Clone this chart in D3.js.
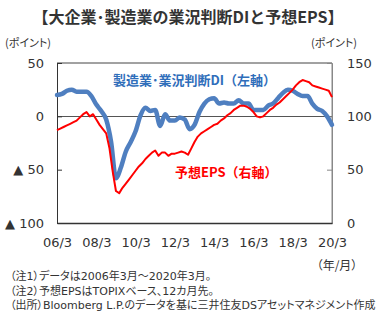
<!DOCTYPE html>
<html>
<head>
<meta charset="utf-8">
<script src="https://cdn.jsdelivr.net/npm/d3@7"></script>
<style>
  html, body { margin: 0; padding: 0; background: #fff; }
  svg { display: block; }
  .jp { font-family: "Noto Sans CJK JP", sans-serif; font-feature-settings: "palt"; }
  .jpw { font-family: "Noto Sans CJK JP", sans-serif; }
  .note { font-family: "DejaVu Sans", "Noto Sans CJK JP", sans-serif; font-feature-settings: "palt"; }
  .num { font-family: "DejaVu Sans", Verdana, sans-serif; }
</style>
</head>
<body>
<svg id="chart" width="377" height="331"></svg>
<script>
// Large manufacturers business conditions DI (quarterly, 2006/3 - 2020/3), left axis
const diStart = "2006-03";
const diValues = [
  20, 21, 24, 25,  23, 23, 23, 19,  11, 5, -3, -24,  -58, -48, -33, -24,
  -14, 1, 8, 5,  6, -9, 2, -4,  -4, -1, -3, -12,  -8, 4, 12, 16,
  17, 12, 13, 12,  12, 15, 12, 12,  6, 6, 6, 10,  12, 17, 22, 25,
  24, 21, 19, 19,  12, 7, 5, 0,  -8
];

// Forward 12-month EPS, TOPIX basis (every two months, 2006/3 - 2020/3), right axis
const epsStart = "2006-03";
const epsValues = [
  87, 88.5, 90, 91.5, 93, 94.5, 96, 99, 102, 104, 100, 102,
  97, 92, 88, 84, 70, 48, 30, 28, 33, 37, 41, 45,
  49, 53, 56, 60, 63, 66, 68, 63, 66, 66, 63, 65,
  65, 66, 67, 66, 64, 70, 76, 81, 84, 86, 88, 90,
  92, 93, 96, 98, 101, 103, 106, 108, 110, 110, 109, 107,
  104, 100, 99, 100, 103, 106, 108, 111, 113, 116, 119, 122,
  125, 129, 132, 134, 133, 132, 129, 128, 127, 126, 125, 124,
  118
];

const xTickLabels = ["06/3", "08/3", "10/3", "12/3", "14/3", "16/3", "18/3", "20/3"];
const leftTicks = [50, 0, -50, -100];
const rightTicks = [150, 100, 50, 0];

const title = "【大企業･製造業の業況判断DIと予想EPS】";
const diLabel = "製造業･業況判断DI（左軸）";
const epsLabel = "予想EPS（右軸）";
const notes = [
  "（注1）データは2006年3月～2020年3月。",
  "（注2）予想EPSはTOPIXベース、12カ月先。",
  "（出所）Bloomberg L.P.のデータを基に三井住友DSアセットマネジメント作成"
];

const parseYM = d3.timeParse("%Y-%m");
const parseTick = d3.timeParse("%y/%m");

const diData = diValues.map((v, i) => ({ date: d3.timeMonth.offset(parseYM(diStart), i * 3), v }));
const epsData = epsValues.map((v, i) => ({ date: d3.timeMonth.offset(parseYM(epsStart), i * 2), v }));

const plot = { left: 57, right: 332, top: 63, bottom: 223 };

const x = d3.scaleTime()
  .domain([parseYM("2006-03"), parseYM("2020-03")])
  .range([plot.left, plot.right]);
const yL = d3.scaleLinear().domain([-100, 50]).range([plot.bottom, plot.top]);
const yR = d3.scaleLinear().domain([0, 150]).range([plot.bottom, plot.top]);

const svg = d3.select("#chart");

// Title
svg.append("text")
  .attr("class", "jpw")
  .attr("x", 188).attr("y", 23)
  .attr("text-anchor", "middle")
  .attr("font-size", 16).attr("font-weight", "bold")
  .attr("fill", "#333")
  .text(title);

// Unit labels
svg.append("text").attr("class", "jp")
  .attr("x", 5).attr("y", 47)
  .attr("font-size", 11).attr("fill", "#333")
  .text("(ポイント)");
svg.append("text").attr("class", "jp")
  .attr("x", 357).attr("y", 47).attr("text-anchor", "end")
  .attr("font-size", 11).attr("fill", "#333")
  .text("(ポイント)");

// Frame: top and right edges
svg.append("line")
  .attr("x1", plot.left).attr("x2", plot.right)
  .attr("y1", plot.top).attr("y2", plot.top)
  .attr("stroke", "#444").attr("stroke-width", 1);
svg.append("line")
  .attr("x1", plot.right).attr("x2", plot.right)
  .attr("y1", plot.top).attr("y2", plot.bottom)
  .attr("stroke", "#888").attr("stroke-width", 1);

// Zero line across the plot
svg.append("line")
  .attr("x1", plot.left).attr("x2", plot.right)
  .attr("y1", Math.round(yL(0)) + 0.5).attr("y2", Math.round(yL(0)) + 0.5)
  .attr("stroke", "#555").attr("stroke-width", 1);

// Left axis
const leftAxis = d3.axisLeft(yL)
  .tickValues(leftTicks)
  .tickSize(-5)
  .tickPadding(13)
  .tickFormat(d => d < 0 ? "▲ " + Math.abs(d) : String(d));
const gL = svg.append("g")
  .attr("transform", `translate(${plot.left},0)`)
  .call(leftAxis);
gL.select(".domain").attr("stroke", "#333");
gL.selectAll(".tick line").attr("stroke", "#333");
gL.selectAll("text")
  .attr("class", "num")
  .attr("font-size", 13)
  .attr("fill", "#333");

// Right axis
const rightAxis = d3.axisRight(yR)
  .tickValues(rightTicks)
  .tickSize(-5)
  .tickPadding(15);
const gR = svg.append("g")
  .attr("transform", `translate(${plot.right},0)`)
  .call(rightAxis);
gR.select(".domain").attr("stroke", "#888");
gR.selectAll(".tick line").attr("stroke", "#888");
gR.selectAll("text")
  .attr("class", "num")
  .attr("font-size", 13)
  .attr("fill", "#333");

// Bottom axis
const bottomAxis = d3.axisBottom(x)
  .tickValues(xTickLabels.map(parseTick))
  .tickSize(0)
  .tickPadding(15)
  .tickFormat(d3.timeFormat("%y/%-m"));
const gB = svg.append("g")
  .attr("transform", `translate(0,${plot.bottom})`)
  .call(bottomAxis);
gB.select(".domain").attr("stroke", "#333").attr("stroke-width", 1.5);
gB.selectAll("text")
  .attr("class", "num")
  .attr("font-size", 13)
  .attr("fill", "#333");

svg.append("text").attr("class", "jp")
  .attr("x", 337).attr("y", 270).attr("text-anchor", "middle")
  .attr("font-size", 12).attr("fill", "#333")
  .text("（年/月）");

// Series lines
const diLine = d3.line()
  .x(d => x(d.date)).y(d => yL(d.v))
  .curve(d3.curveMonotoneX);
const epsLine = d3.line()
  .x(d => x(d.date)).y(d => yR(d.v));

svg.append("path")
  .datum(diData)
  .attr("d", diLine)
  .attr("fill", "none")
  .attr("stroke", "#4F7FC0")
  .attr("stroke-width", 4.5)
  .attr("stroke-linejoin", "round")
  .attr("stroke-linecap", "round");

svg.append("path")
  .datum(epsData)
  .attr("d", epsLine)
  .attr("fill", "none")
  .attr("stroke", "#FF0000")
  .attr("stroke-width", 2)
  .attr("stroke-linejoin", "round");

// Series labels
svg.append("text").attr("class", "jpw")
  .attr("x", 113).attr("y", 85)
  .attr("font-size", 13).attr("font-weight", "bold")
  .attr("fill", "#2F6EBA")
  .text(diLabel);
svg.append("text").attr("class", "jpw")
  .attr("x", 175).attr("y", 177)
  .attr("font-size", 13).attr("font-weight", "bold")
  .attr("fill", "#FF0000")
  .text(epsLabel);

// Notes
notes.forEach((t, i) => {
  svg.append("text").attr("class", "note")
    .attr("x", 10).attr("y", 280 + i * 14.5)
    .attr("font-size", 11).attr("fill", "#333")
    .text(t);
});
</script>
</body>
</html>
